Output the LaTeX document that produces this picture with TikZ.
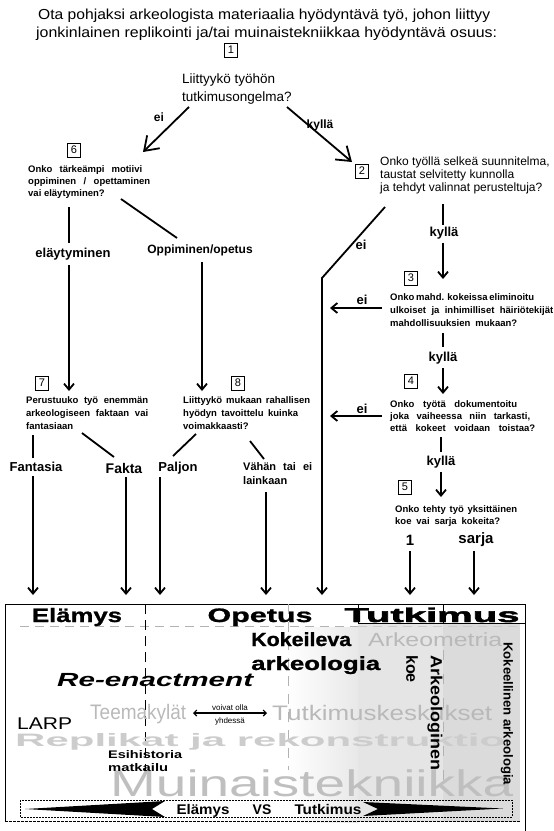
\documentclass[tikz,border=0pt]{standalone}
\usepackage{fontspec}
\setmainfont{Liberation Sans}
\newfontface\heavyA{Liberation Sans Bold}[FakeBold=1]
\newfontface\heavyB{Liberation Sans Bold}[FakeBold=2]
\usetikzlibrary{arrows.meta}
\newcommand\fw[2]{\resizebox{#1}{\height}{#2}}
\newcommand\jl[2]{\hbox to #1{#2}}
\tikzset{
 num/.style={draw, line width=0.7pt, minimum width=13pt, minimum height=14pt, inner sep=0pt, font=\fontsize{11}{11}\selectfont},
 qb/.style={anchor=base west, align=left, inner sep=0pt, font=\fontsize{9.5}{13}\selectfont\bfseries},
 lab/.style={font=\fontsize{13}{13}\selectfont\bfseries, inner sep=0pt},
 ln/.style={line width=1.8pt},
 arr/.style={line width=1.8pt, -{Straight Barb[length=6pt,width=10pt]}},
 bigarr/.style={line width=1.8pt, -{Straight Barb[length=13pt,width=18pt]}},
 bt/.style={anchor=base west, inner sep=0pt},
 bc/.style={anchor=base, inner sep=0pt},
 ghost/.style={text=gray!55},
}
\begin{document}
\begin{tikzpicture}[x=1pt,y=-1pt]
\useasboundingbox (0,0) rectangle (554,831);
% ---------- header ----------
\node[bt, font=\fontsize{14.5}{18}\selectfont] (t1) at (38,19) {\fw{452pt}{Ota pohjaksi arkeologista materiaalia hyödyntävä työ, johon liittyy}};
\node[bt, font=\fontsize{14.5}{18}\selectfont] (t2) at (36,37) {\fw{461pt}{jonkinlainen replikointi ja/tai muinaistekniikkaa hyödyntävä osuus:}};
% ---------- number boxes ----------
\node[num] (n1) at (231,50) {1};
\node[num] (n2) at (362,171) {2};
\node[num] (n3) at (411,278) {3};
\node[num] (n4) at (411,381) {4};
\node[num] (n5) at (405,487) {5};
\node[num] (n6) at (74,150) {6};
\node[num] (n7) at (42,383) {7};
\node[num] (n8) at (238,383) {8};
% ---------- questions (anchor = baseline of last line) ----------
\node[anchor=base west, align=left, inner sep=0pt, font=\fontsize{13.5}{18}\selectfont] (q1) at (182,101) {Liittyykö työhön\\tutkimusongelma?};
\node[anchor=base west, align=left, inner sep=0pt, font=\fontsize{12}{13}\selectfont] (q2) at (380,191) {Onko työllä selkeä suunnitelma,\\taustat selvitetty kunnolla\\ja tehdyt valinnat perusteltuja?};
\node[qb, font=\fontsize{9.5}{12}\selectfont\bfseries] (q6) at (28,196) {\jl{114pt}{Onko tärkeämpi motiivi}\\\jl{122pt}{oppiminen / opettaminen}\\vai eläytyminen?};
\node[qb] (q7) at (26,429) {\jl{122pt}{Perustuuko työ enemmän}\\\jl{122pt}{arkeologiseen faktaan vai}\\fantasiaan};
\node[qb] (q8) at (183,429) {\jl{127pt}{Liittyykö mukaan rahallisen}\\\jl{115pt}{hyödyn tavoittelu kuinka}\\voimakkaasti?};
\node[qb] (q3) at (390,326) {\jl{136pt}{Onko mahd. kokeissa eliminoitu}\\\jl{163pt}{ulkoiset ja inhimilliset häiriötekijät}\\\jl{127pt}{mahdollisuuksien mukaan?}};
\node[qb, font=\fontsize{9.5}{12}\selectfont\bfseries] (q4) at (390,431) {\jl{127pt}{Onko työtä dokumentoitu}\\\jl{140pt}{joka vaiheessa niin tarkasti,}\\\jl{145pt}{että kokeet voidaan toistaa?}};
\node[qb, font=\fontsize{9.5}{12}\selectfont\bfseries] (q5) at (395,524) {\jl{122pt}{Onko tehty työ yksittäinen}\\\jl{105pt}{koe vai sarja kokeita?}};
% ---------- labels ----------
\node[lab, font=\fontsize{12}{12}\selectfont\bfseries] (e1) at (159,117) {ei};
\node[lab, font=\fontsize{12}{12}\selectfont\bfseries] (k1) at (320,125) {kyllä};
\node[lab] (l6a) at (73,254) {eläytyminen};
\node[lab, font=\fontsize{12}{12}\selectfont\bfseries] (l6b) at (200,250) {Oppiminen/opetus};
\node[lab] (e2) at (361,245) {ei};
\node[lab] (k2) at (444,233) {kyllä};
\node[lab] (e3) at (362,300) {ei};
\node[lab] (k3) at (443,358) {kyllä};
\node[lab] (e4) at (362,409) {ei};
\node[lab] (k4) at (441,462) {kyllä};
\node[lab] (l7a) at (36,467) {Fantasia};
\node[lab, font=\fontsize{14}{14}\selectfont\bfseries] (l7b) at (124,468) {Fakta};
\node[lab] (l8a) at (178,468) {Paljon};
\node[anchor=north west, align=left, inner sep=0pt, font=\fontsize{11}{14}\selectfont\bfseries] (l8b) at (243,462) {\jl{69pt}{Vähän tai ei}\\lainkaan};
\node[lab, font=\fontsize{15}{15}\selectfont\bfseries] (l5a) at (410,540) {1};
\node[lab, font=\fontsize{15}{15}\selectfont\bfseries] (l5b) at (476,540) {sarja};
% ---------- connector points ----------
\coordinate (a1s) at (189,107); \coordinate (a1e) at (143,152);
\coordinate (a2s) at (287,107); \coordinate (a2e) at (352,162);
\coordinate (b6s) at (69,207);  \coordinate (b6e) at (69,243);
\coordinate (c6s) at (69,265);  \coordinate (c6e) at (69,391);
\coordinate (b6t) at (121,199); \coordinate (b6u) at (177,238);
\coordinate (c6t) at (202,262); \coordinate (c6u) at (202,391);
\coordinate (b7s) at (33,435);  \coordinate (b7e) at (33,458);
\coordinate (c7s) at (33,476);  \coordinate (c7e) at (33,595);
\coordinate (b7t) at (82,433);  \coordinate (b7u) at (114,457);
\coordinate (c7t) at (126,477); \coordinate (c7u) at (126,595);
\coordinate (b8s) at (196,434); \coordinate (b8e) at (173,456);
\coordinate (c8s) at (160,477); \coordinate (c8e) at (160,595);
\coordinate (b8t) at (250,441); \coordinate (b8u) at (264,459);
\coordinate (c8t) at (266,492); \coordinate (c8u) at (266,595);
\coordinate (d2s) at (385,207); \coordinate (d2m) at (322,278); \coordinate (d2e) at (322,595);
\coordinate (f2s) at (443,204); \coordinate (f2e) at (443,225);
\coordinate (g2s) at (443,243); \coordinate (g2e) at (443,279);
\coordinate (h3s) at (382,308); \coordinate (h3e) at (330,308);
\coordinate (f3s) at (443,333); \coordinate (f3e) at (443,347);
\coordinate (g3s) at (443,368); \coordinate (g3e) at (443,394);
\coordinate (h4s) at (382,416); \coordinate (h4e) at (330,416);
\coordinate (f4s) at (441,437); \coordinate (f4e) at (441,452);
\coordinate (g4s) at (441,472); \coordinate (g4e) at (441,497);
\coordinate (g5s) at (410,551); \coordinate (g5e) at (410,595);
\coordinate (g6s) at (474,551); \coordinate (g6e) at (474,595);
% ---------- connectors ----------
\draw[bigarr] (a1s) -- (a1e);
\draw[bigarr] (a2s) -- (a2e);
\draw[ln] (b6s) -- (b6e);
\draw[arr] (c6s) -- (c6e);
\draw[ln] (b6t) -- (b6u);
\draw[arr] (c6t) -- (c6u);
\draw[ln] (b7s) -- (b7e);
\draw[arr] (c7s) -- (c7e);
\draw[ln] (b7t) -- (b7u);
\draw[arr] (c7t) -- (c7u);
\draw[ln] (b8s) -- (b8e);
\draw[arr] (c8s) -- (c8e);
\draw[ln] (b8t) -- (b8u);
\draw[arr] (c8t) -- (c8u);
\draw[arr] (d2s) -- (d2m) -- (d2e);
\draw[ln] (f2s) -- (f2e);
\draw[arr] (g2s) -- (g2e);
\draw[arr] (h3s) -- (h3e);
\draw[ln] (f3s) -- (f3e);
\draw[arr] (g3s) -- (g3e);
\draw[arr] (h4s) -- (h4e);
\draw[ln] (f4s) -- (f4e);
\draw[arr] (g4s) -- (g4e);
\draw[arr] (g5s) -- (g5e);
\draw[arr] (g6s) -- (g6e);
% ---------- bottom box ----------
\fill[gray!20] (358,624) rectangle (443,822);
\fill[gray!28] (443,624) rectangle (520,822);
\shade[left color=white, right color=gray!18] (288,627) rectangle (358,822);
\draw[line width=0.8pt] (5,821) -- (5,604) -- (525,604) -- (525,831);
\draw[line width=0.6pt, dash pattern=on 3pt off 1pt] (5,821) -- (520,821);
\draw[line width=0.6pt] (358,623) -- (525,623);
\draw[gray!60, line width=1pt, dash pattern=on 9pt off 6pt] (20,626) -- (358,626);
\draw[gray!40, line width=1pt, dash pattern=on 9pt off 6pt] (358,626) -- (520,626);
\draw[line width=0.7pt, dash pattern=on 10pt off 6pt] (145,604) -- (145,770);
\draw[gray!60, line width=0.6pt, dash pattern=on 10pt off 8pt] (288,604) -- (288,770);
\draw[line width=0.6pt] (358,604) -- (358,623);
\draw[line width=0.6pt] (443,604) -- (443,623);
\draw[gray!60, line width=0.6pt, dash pattern=on 10pt off 14pt] (443,650) -- (443,780);
\node[bc, font=\fontsize{19.5}{20}\selectfont\heavyA] (hE) at (77,622) {\fw{90pt}{Elämys}};
\node[bc, font=\fontsize{19.5}{20}\selectfont\heavyA] (hO) at (260,622) {\fw{105pt}{Opetus}};
\node[bc, font=\fontsize{20}{20}\selectfont\heavyB] (hT) at (432,622) {\fw{175pt}{Tutkimus}};
% background words
\node[bt, text=gray!40, font=\fontsize{18}{18}\selectfont\bfseries] (rep) at (15,746) {\fw{490pt}{Replikat ja rekonstruktio}};
\node[bt, text=gray!50, font=\fontsize{37}{37}\selectfont] (mui) at (110,796) {\fw{403pt}{Muinaistekniikka}};
\node[bt, ghost, font=\fontsize{19}{19}\selectfont] (ark) at (368,646) {\fw{134pt}{Arkeometria}};
\node[bt, ghost, font=\fontsize{21}{21}\selectfont] (tee) at (90,719) {\fw{96pt}{Teemakylät}};
\node[bt, ghost, font=\fontsize{21}{21}\selectfont] (tut) at (272,720) {\fw{220pt}{Tutkimuskeskukset}};
% foreground words
\node[bt, font=\fontsize{19}{19}\selectfont\heavyA] (kok) at (251,646) {\fw{100pt}{Kokeileva}};
\node[bt, font=\fontsize{19}{19}\selectfont\heavyA] (arkl) at (251,670) {\fw{129pt}{arkeologia}};
\node[bt, font=\fontsize{19}{19}\selectfont\bfseries\itshape] (ree) at (57,686) {\fw{196pt}{Re-enactment}};
\node[bt, font=\fontsize{17}{17}\selectfont] (larp) at (17,729) {\fw{55pt}{LARP}};
\node[bt, font=\fontsize{11}{11}\selectfont\bfseries] (esi) at (108,758) {\fw{74pt}{Esihistoria}};
\node[bt, font=\fontsize{11}{11}\selectfont\bfseries] (mat) at (108,771) {\fw{60pt}{matkailu}};
\coordinate (vo1) at (193,713); \coordinate (vo2) at (267,713);
\draw[line width=1.1pt, {Straight Barb[length=3pt,width=6pt]}-{Straight Barb[length=3pt,width=6pt]}] (vo1) -- (vo2);
\node[bc, font=\fontsize{8}{8}\selectfont] (voi) at (230,710) {voivat olla};
\node[bc, font=\fontsize{8}{8}\selectfont] (yhd) at (230,723) {yhdessä};
\node[rotate=-90, anchor=west, inner sep=0pt, font=\fontsize{16}{16}\selectfont\bfseries] (akoe) at (435,655) {\fw{115pt}{Arkeologinen}};
\node[rotate=-90, anchor=west, inner sep=0pt, font=\fontsize{16}{16}\selectfont\bfseries] (koe) at (412,655) {koe};
\node[rotate=-90, anchor=west, inner sep=0pt, font=\fontsize{13}{13}\selectfont\bfseries] (kark) at (507,642) {\fw{143pt}{Kokeellinen arkeologia}};
% ---------- bottom bar ----------
\fill[white] (20,800) rectangle (288,817);
\draw[line width=0.8pt, dash pattern=on 2pt off 1pt] (20,800) rectangle (512,817);
\fill[black] (25,809) -- (165,801) -- (152,809) -- (165,817) -- cycle;
\fill[black] (363,802) -- (503,808.5) -- (363,816) -- (378,809) -- cycle;
\node[bc, font=\fontsize{14}{14}\selectfont\bfseries] (bE) at (203,814) {\fw{53pt}{Elämys}};
\node[bc, font=\fontsize{14}{14}\selectfont\bfseries] (bV) at (262,814) {VS};
\node[bc, font=\fontsize{14}{14}\selectfont\bfseries] (bT) at (328,814) {\fw{67pt}{Tutkimus}};
\end{tikzpicture}
\end{document}
